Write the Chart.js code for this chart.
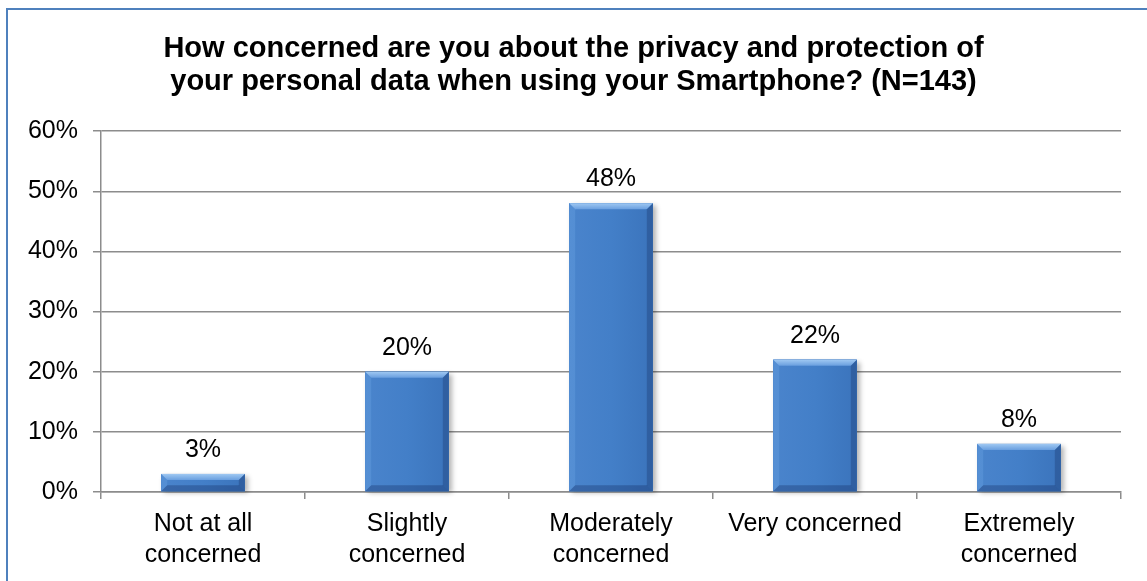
<!DOCTYPE html>
<html>
<head>
<meta charset="utf-8">
<script src="https://cdn.jsdelivr.net/npm/chart.js@4.4.1/dist/chart.umd.min.js"></script>
<style>
  html, body { margin: 0; padding: 0; background: #fff; overflow: hidden; }
  #wrap { position: relative; width: 1147px; height: 581px; overflow: hidden; }
  #frame { position: absolute; left: 6px; top: 8px; width: 1200px; height: 700px;
           border: 2px solid #4f81bd; box-sizing: border-box; }
  canvas { position: absolute; left: 0; top: 0; }
</style>
</head>
<body>
<div id="wrap">
  <div id="frame"></div>
  <canvas id="c" width="1147" height="581"></canvas>
</div>
<script>
// Survey answers: share of respondents (%) per level of concern
const categories = [
  ['Not at all', 'concerned'],
  ['Slightly', 'concerned'],
  ['Moderately', 'concerned'],
  'Very concerned',
  ['Extremely', 'concerned']
];
const shares = [3, 20, 48, 22, 8];
const yMax = 60;
const yStep = 10;
const titleLines = [
  'How concerned are you about the privacy and protection of',
  'your personal data when using your Smartphone? (N=143)'
];

const FONT = '"Liberation Sans", Arial, Helvetica, sans-serif';

// Beveled bar look with a soft drop shadow, plus value labels above each bar
const bevelBars = {
  id: 'bevelBars',
  beforeDatasetsDraw(chart) {
    const ctx = chart.ctx;
    const meta = chart.getDatasetMeta(0);
    ctx.save();
    meta.data.forEach(bar => {
      const { x, y, base, width } = bar.getProps(['x', 'y', 'base', 'width'], true);
      ctx.shadowColor = 'rgba(0,0,0,0.3)';
      ctx.shadowBlur = 5;
      ctx.shadowOffsetX = 3;
      ctx.shadowOffsetY = 2;
      ctx.fillStyle = '#3f78c0';
      ctx.fillRect(x - width / 2, y, width, base - y);
    });
    ctx.restore();
  },
  afterDatasetsDraw(chart) {
    const ctx = chart.ctx;
    const meta = chart.getDatasetMeta(0);
    ctx.save();
    meta.data.forEach((bar, i) => {
      const { x, y, base, width } = bar.getProps(['x', 'y', 'base', 'width'], true);
      const l = x - width / 2, r = x + width / 2, t = y, b = base;
      const h = b - t;
      const bv = Math.min(6, h / 2);

      const poly = (pts, fill) => {
        ctx.beginPath();
        ctx.moveTo(pts[0][0], pts[0][1]);
        for (let k = 1; k < pts.length; k++) ctx.lineTo(pts[k][0], pts[k][1]);
        ctx.closePath();
        ctx.fillStyle = fill;
        ctx.fill();
      };

      const body = ctx.createLinearGradient(l, 0, r, 0);
      body.addColorStop(0, '#4a84cc');
      body.addColorStop(0.5, '#437fc8');
      body.addColorStop(1, '#3b74bc');
      ctx.fillStyle = body;
      ctx.fillRect(l, t, width, h);

      const topGrad = ctx.createLinearGradient(0, t, 0, t + bv);
      topGrad.addColorStop(0, '#9fc8f2');
      topGrad.addColorStop(1, '#6a9fdf');
      poly([[l, t], [r, t], [r - bv, t + bv], [l + bv, t + bv]], topGrad);
      poly([[l, t], [l + bv, t + bv], [l + bv, b - bv], [l, b]], 'rgba(120,175,235,0.25)');
      poly([[r, t], [r, b], [r - bv, b - bv], [r - bv, t + bv]], 'rgba(10,30,80,0.25)');
      poly([[l, b], [r, b], [r - bv, b - bv], [l + bv, b - bv]], 'rgba(10,30,80,0.28)');

      ctx.fillStyle = '#000';
      ctx.font = '25px ' + FONT;
      ctx.textAlign = 'center';
      ctx.textBaseline = 'alphabetic';
      ctx.fillText(shares[i] + '%', x, t - 17);
    });
    ctx.restore();
  }
};

const gridColor = '#8c8c8c';

new Chart(document.getElementById('c'), {
  type: 'bar',
  data: {
    labels: categories,
    datasets: [{
      data: shares,
      backgroundColor: '#437fc8',
      borderWidth: 0,
      categoryPercentage: 1,
      barPercentage: 0.41
    }]
  },
  options: {
    responsive: false,
    animation: false,
    devicePixelRatio: 1,
    layout: { padding: { left: 26, right: 26, top: 0, bottom: 0 } },
    plugins: {
      legend: { display: false },
      tooltip: { enabled: false },
      title: {
        display: true,
        text: titleLines,
        color: '#000',
        font: { family: FONT, size: 29, weight: 'bold', lineHeight: 1.14 },
        padding: { top: 32, bottom: 33 }
      }
    },
    scales: {
      x: {
        grid: { drawOnChartArea: false, drawTicks: true, tickLength: 7, color: gridColor, lineWidth: 1.5 },
        border: { color: gridColor, width: 1.5 },
        ticks: {
          color: '#000',
          font: { family: FONT, size: 25, lineHeight: 1.24 },
          padding: 10,
          maxRotation: 0,
          autoSkip: false
        },
        afterFit(scale) { scale.height = 89; }
      },
      y: {
        min: 0,
        max: yMax,
        ticks: {
          stepSize: yStep,
          color: '#000',
          font: { family: FONT, size: 25 },
          padding: 15,
          callback: (v) => v + '%'
        },
        grid: { color: gridColor, lineWidth: 1.5, tickLength: 8 },
        border: { color: gridColor, width: 1.5 },
        afterFit(scale) { scale.width = 75; }
      }
    }
  },
  plugins: [bevelBars]
});
</script>
</body>
</html>
